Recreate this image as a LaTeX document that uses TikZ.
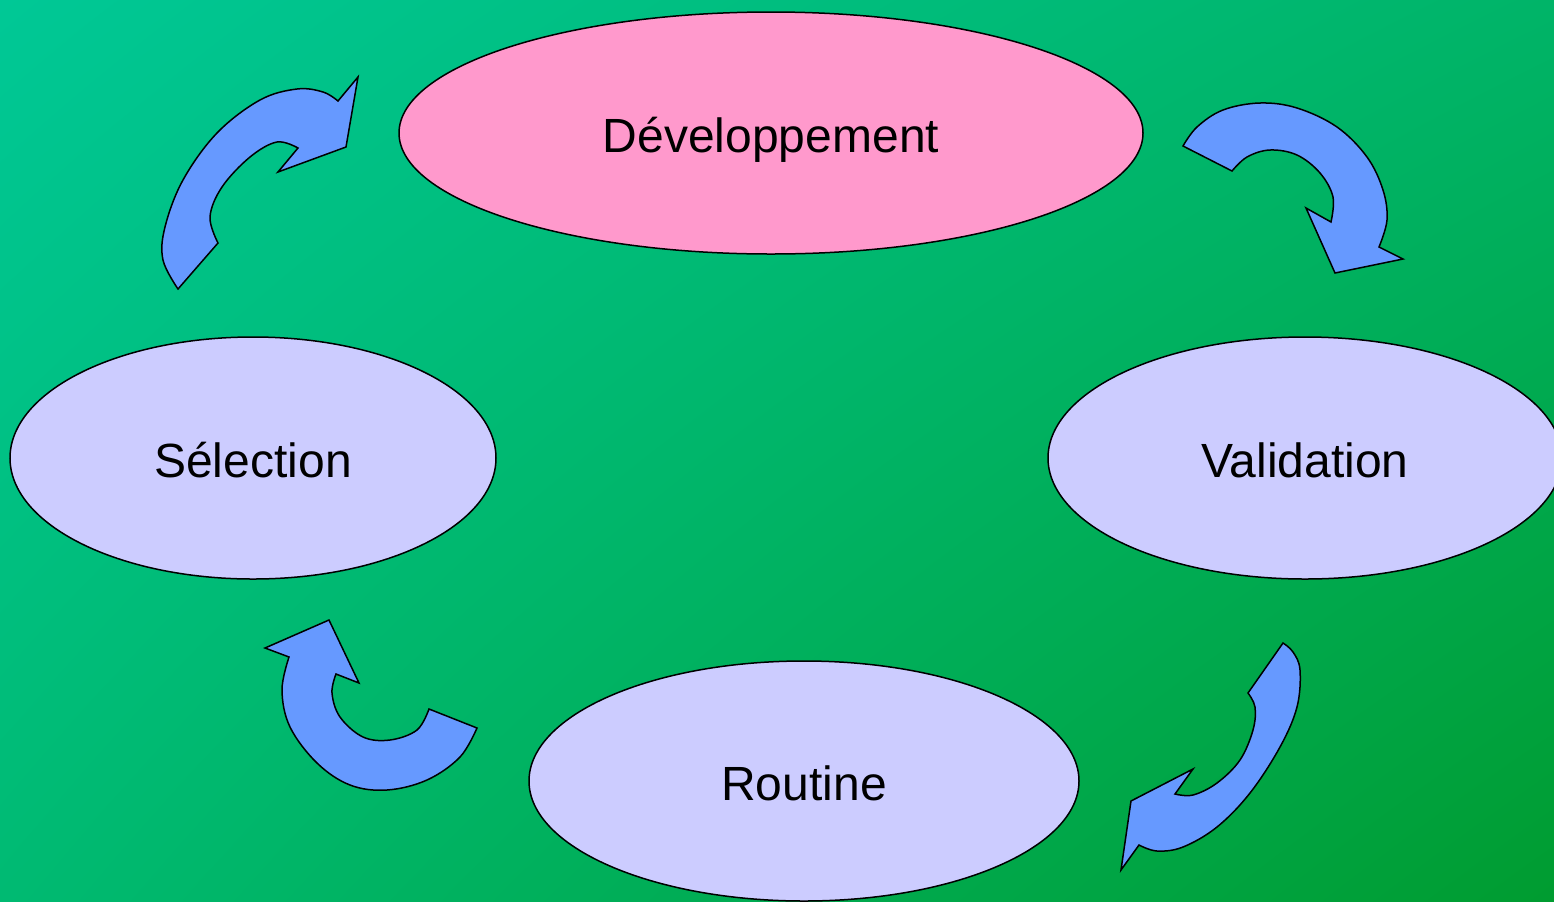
\documentclass[tikz,border=0pt]{standalone}
\usepackage{fontspec}
\setmainfont{Liberation Sans}
\usetikzlibrary{shapes.geometric,shadings}

\definecolor{bgTL}{HTML}{00C896}
\definecolor{bgTR}{HTML}{00B468}
\definecolor{bgBL}{HTML}{00BA72}
\definecolor{bgBR}{HTML}{009C30}
\definecolor{stagepink}{HTML}{FF99CC}
\definecolor{stagelilac}{HTML}{CCCCFF}
\definecolor{arrowblue}{HTML}{6699FF}

\tikzset{
  stage/.style={ellipse, draw=black, line width=0.75pt, inner sep=0pt,
                text height=19pt, text depth=0pt,
                font=\fontsize{24}{28}\selectfont},
  cyclearrow/.style={fill=arrowblue, draw=black, line width=0.75pt, line join=miter},
}

\begin{document}
\begin{tikzpicture}[x=0.5pt, y=-0.5pt]
  \useasboundingbox (0,0) rectangle (1554,901);
  \clip (0,0) rectangle (1554,901);

  % background gradient
  \shade[upper left=bgTL, upper right=bgTR, lower left=bgBL, lower right=bgBR]
    (0,0) rectangle (1554,901);

  % the four stages of the cycle
  \node[stage, fill=stagepink, minimum width=372pt, minimum height=121pt]
    (dev) at (771,133) {Développement};
  \node[stage, fill=stagelilac, minimum width=257pt, minimum height=121pt]
    (val) at (1305,458) {Validation};
  \node[stage, fill=stagelilac, minimum width=275pt, minimum height=120pt]
    (rou) at (804,781) {Routine};
  \node[stage, fill=stagelilac, minimum width=243pt, minimum height=121pt]
    (sel) at (253,458) {Sélection};

  % curved arrow: Sélection -> Développement
  \draw[cyclearrow]
    plot[smooth, tension=0.6] coordinates {(218,243) (210,217) (222,187) (250,157) (277,142) (298,148)}
    -- (278,172) -- (346,147) -- (358,77) -- (338,101)
    -- plot[smooth, tension=0.6] coordinates {(338,101) (323,92) (297,89) (260,100) (217,133) (183,180) (165,227) (163,260) (178,289)}
    -- cycle;

  % curved arrow: Développement -> Validation
  \draw[cyclearrow]
    plot[smooth, tension=0.6] coordinates {(1232,171) (1247,157) (1270,150) (1297,155) (1320,173) (1333,197) (1331,222)}
    -- (1306,208) -- (1335,273) -- (1403,259) -- (1379,247)
    -- plot[smooth, tension=0.6] coordinates {(1379,247) (1387,220) (1383,190) (1367,157) (1337,127) (1297,108) (1260,103) (1223,110) (1197,127) (1183,146)}
    -- cycle;

  % curved arrow: Validation -> Routine
  \draw[cyclearrow]
    plot[smooth, tension=0.6] coordinates {(1248,693) (1255,707) (1253,730) (1240,760) (1217,783) (1193,795) (1175,794)}
    -- (1193,769) -- (1131,801) -- (1121,870) -- (1139,845)
    -- plot[smooth, tension=0.6] coordinates {(1139,845) (1157,851) (1183,847) (1217,827) (1250,793) (1280,747) (1297,707) (1300,670) (1293,652) (1283,643)}
    -- cycle;

  % curved arrow: Routine -> Sélection
  \draw[cyclearrow]
    plot[smooth, tension=0.6] coordinates {(429,709) (417,730) (390,740) (363,737) (340,717) (332,693) (336,674)}
    -- (359,683) -- (329,620) -- (265,648) -- (289,657)
    -- plot[smooth, tension=0.6] coordinates {(289,657) (282,690) (290,727) (317,763) (350,785) (387,790) (427,780) (460,757) (477,728)}
    -- cycle;
\end{tikzpicture}
\end{document}
